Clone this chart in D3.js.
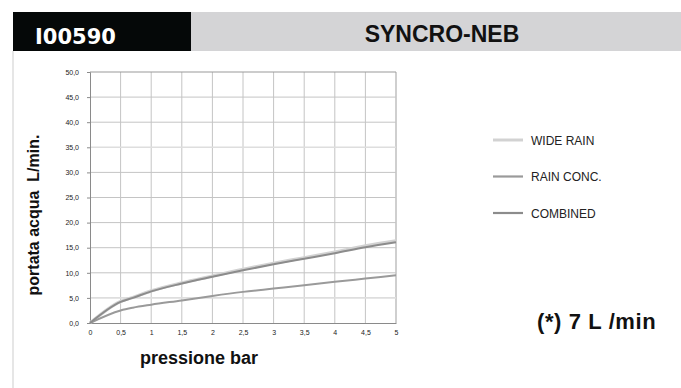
<!DOCTYPE html>
<html><head><meta charset="utf-8">
<script src="https://cdn.jsdelivr.net/npm/d3@7"></script>
<style>
html,body{margin:0;padding:0;background:#fff;}
svg text{font-family:"Liberation Sans",Arial,sans-serif;}
</style></head>
<body><svg id="c" width="681" height="388"></svg>
<script>
const codeLabel = "I00590";
const titleLabel = "SYNCRO-NEB";
const xTicks = [0,0.5,1,1.5,2,2.5,3,3.5,4,4.5,5];
const yTicks = [0,5,10,15,20,25,30,35,40,45,50];
const pressure = [0,0.5,0.7,1,1.5,2,2.5,3,3.5,4,4.5,5];
const wideRain = [0,4.3,5.1,6.4,8.0,9.35,10.7,11.9,13.0,14.15,15.35,16.35];
const rainConc = [0,2.5,3.05,3.65,4.5,5.4,6.2,6.85,7.5,8.2,8.85,9.5];
const combined = [0,4.2,5.0,6.3,7.85,9.2,10.5,11.7,12.8,13.9,15.1,16.1];
const seriesNames = ["WIDE RAIN","RAIN CONC.","COMBINED"];
const seriesColors = ["#d2d2d2","#9a9a9a","#8c8c8c"];
const seriesWidths = [3.2,2,2];
const noteLabel = "(*) 7 L /min";
const xTitle = "pressione bar";
const yTitle = "portata acqua  L/min.";

const svg = d3.select("#c");
const fmt = v => String(v).replace(".", ",");
const fmtY = v => v.toFixed(1).replace(".", ",");

// header
svg.append("rect").attr("x",13).attr("y",12).attr("width",178).attr("height",39).attr("fill","#050808");
svg.append("rect").attr("x",191).attr("y",12).attr("width",490).attr("height",39).attr("fill","#d4d4d6");
svg.append("text").attr("x",35).attr("y",44).attr("fill","#fff")
  .style("font-family","'DejaVu Sans',sans-serif").style("font-weight","bold").style("font-size","21px").text(codeLabel);
svg.append("text").attr("x",442).attr("y",42).attr("text-anchor","middle").attr("fill","#111")
  .style("font-weight","bold").style("font-size","23px").text(titleLabel);
// left border
svg.append("rect").attr("x",12).attr("y",51).attr("width",2).attr("height",337).attr("fill","#e6e6e6");

const x = d3.scaleLinear().domain([0,5]).range([90,396]);
const y = d3.scaleLinear().domain([0,50]).range([323,72]);

// grid
const g = svg.append("g");
g.selectAll(".vg").data(xTicks.slice(1)).join("line")
  .attr("x1",d=>x(d)).attr("x2",d=>x(d)).attr("y1",y(0)).attr("y2",y(50))
  .attr("stroke",d=>d===5?"#cfcfcf":"#c4c4c4").attr("stroke-width",d=>d===5?2:1);
g.selectAll(".hg").data(yTicks.slice(1)).join("line")
  .attr("x1",x(0)).attr("x2",x(5)).attr("y1",d=>y(d)).attr("y2",d=>y(d))
  .attr("stroke",d=>(d===35||d===5)?"#dedede":(d===50?"#999":"#c4c4c4"))
  .attr("stroke-width",d=>(d===35||d===5)?1.6:1);

// axes
const ya = svg.append("g").attr("transform",`translate(${x(0)},0)`)
  .call(d3.axisLeft(y).tickValues(yTicks).tickFormat(fmtY).tickSize(3).tickPadding(8));
const xa = svg.append("g").attr("transform",`translate(0,${y(0)})`)
  .call(d3.axisBottom(x).tickValues(xTicks).tickFormat(fmt).tickSize(0).tickPadding(7));
[ya,xa].forEach(a=>{
  a.select(".domain").attr("stroke","#8a8a8a");
  a.selectAll(".tick line").attr("stroke","#8a8a8a");
  a.selectAll("text").attr("fill","#222").style("font-size","7px").style("font-family","'Liberation Sans',Arial,sans-serif");
});

// lines
const allSeries = [wideRain, rainConc, combined];
const line = d3.line().x((d,i)=>x(pressure[i])).y(d=>y(d)).curve(d3.curveMonotoneX);
allSeries.forEach((s,i)=>{
  svg.append("path").datum(s).attr("d",line).attr("fill","none")
    .attr("stroke",seriesColors[i]).attr("stroke-width",seriesWidths[i]).attr("stroke-linejoin","round");
});

// legend
const lg = svg.append("g");
seriesNames.forEach((n,i)=>{
  const yy = 140 + i*36.5;
  lg.append("line").attr("x1",493).attr("x2",523).attr("y1",yy).attr("y2",yy)
    .attr("stroke",seriesColors[i]).attr("stroke-width",i===0?3:2.2);
  lg.append("text").attr("x",531).attr("y",yy+4.5).attr("fill","#222").style("font-size","12px").text(n);
});

// note
svg.append("text").attr("x",537).attr("y",329).attr("fill","#111").style("font-weight","bold").style("font-size","22px").style("letter-spacing","0.6px").text(noteLabel);
// axis titles
svg.append("text").attr("x",140).attr("y",364).attr("fill","#111").style("font-weight","bold").style("font-size","18px").text(xTitle);
svg.append("text").attr("transform","translate(39,215) rotate(-90)").attr("text-anchor","middle")
  .attr("fill","#111").style("font-weight","bold").style("font-size","16px").style("white-space","pre").text(yTitle);
</script></body></html>
